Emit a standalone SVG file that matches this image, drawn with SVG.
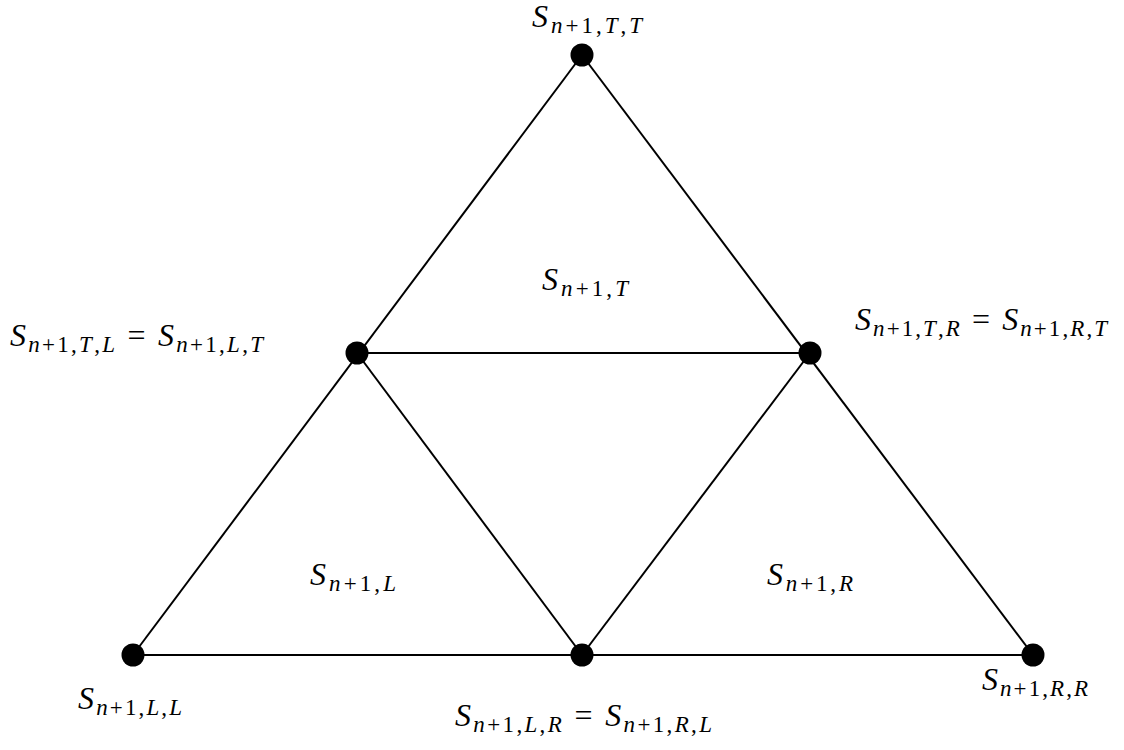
<svg xmlns="http://www.w3.org/2000/svg" width="1124" height="750" viewBox="0 0 1124 750">
<style>
.e{stroke:#000;stroke-width:2;fill:none}
.n{fill:#000}
text{font-family:"Liberation Serif","DejaVu Serif",serif;font-size:32px;fill:#000}
.i{font-style:italic}
.s{font-size:23px}
</style>
<rect width="1124" height="750" fill="#fff"/>
<g id="connectors">
<line class="e" x1="582" y1="55" x2="133" y2="655"/>
<line class="e" x1="582" y1="55" x2="1033" y2="655"/>
<line class="e" x1="133" y1="655" x2="1033" y2="655"/>
<line class="e" x1="357" y1="353" x2="810" y2="353"/>
<line class="e" x1="357" y1="353" x2="582" y2="655"/>
<line class="e" x1="810" y1="353" x2="582" y2="655"/>
</g>
<g id="node-TT"><circle class="n" cx="582" cy="55" r="11.5"/>
<text x="532" y="27" textLength="110" lengthAdjust="spacing"><tspan class="i">S</tspan><tspan class="s" dy="6"><tspan class="i">n</tspan>+1,<tspan class="i">T</tspan>,<tspan class="i">T</tspan></tspan></text></g>
<g id="node-TL"><circle class="n" cx="357" cy="353" r="11.5"/>
<text x="10" y="346" textLength="253" lengthAdjust="spacing"><tspan class="i">S</tspan><tspan class="s" dy="6"><tspan class="i">n</tspan>+1,<tspan class="i">T</tspan>,<tspan class="i">L</tspan></tspan><tspan dy="-6"> = </tspan><tspan class="i">S</tspan><tspan class="s" dy="6"><tspan class="i">n</tspan>+1,<tspan class="i">L</tspan>,<tspan class="i">T</tspan></tspan></text></g>
<g id="node-TR"><circle class="n" cx="810" cy="353" r="11.5"/>
<text x="855" y="330" textLength="252" lengthAdjust="spacing"><tspan class="i">S</tspan><tspan class="s" dy="6"><tspan class="i">n</tspan>+1,<tspan class="i">T</tspan>,<tspan class="i">R</tspan></tspan><tspan dy="-6"> = </tspan><tspan class="i">S</tspan><tspan class="s" dy="6"><tspan class="i">n</tspan>+1,<tspan class="i">R</tspan>,<tspan class="i">T</tspan></tspan></text></g>
<g id="node-LL"><circle class="n" cx="133" cy="655" r="11.5"/>
<text x="78" y="709" textLength="104" lengthAdjust="spacing"><tspan class="i">S</tspan><tspan class="s" dy="6"><tspan class="i">n</tspan>+1,<tspan class="i">L</tspan>,<tspan class="i">L</tspan></tspan></text></g>
<g id="node-LR"><circle class="n" cx="582" cy="655" r="11.5"/>
<text x="455" y="726" textLength="257" lengthAdjust="spacing"><tspan class="i">S</tspan><tspan class="s" dy="6"><tspan class="i">n</tspan>+1,<tspan class="i">L</tspan>,<tspan class="i">R</tspan></tspan><tspan dy="-6"> = </tspan><tspan class="i">S</tspan><tspan class="s" dy="6"><tspan class="i">n</tspan>+1,<tspan class="i">R</tspan>,<tspan class="i">L</tspan></tspan></text></g>
<g id="node-RR"><circle class="n" cx="1033" cy="655" r="11.5"/>
<text x="982" y="690" textLength="106" lengthAdjust="spacing"><tspan class="i">S</tspan><tspan class="s" dy="6"><tspan class="i">n</tspan>+1,<tspan class="i">R</tspan>,<tspan class="i">R</tspan></tspan></text></g>
<g id="region-T"><text x="542" y="290" textLength="86" lengthAdjust="spacing"><tspan class="i">S</tspan><tspan class="s" dy="6"><tspan class="i">n</tspan>+1,<tspan class="i">T</tspan></tspan></text></g>
<g id="region-L"><text x="310" y="585" textLength="86" lengthAdjust="spacing"><tspan class="i">S</tspan><tspan class="s" dy="6"><tspan class="i">n</tspan>+1,<tspan class="i">L</tspan></tspan></text></g>
<g id="region-R"><text x="767" y="585" textLength="86" lengthAdjust="spacing"><tspan class="i">S</tspan><tspan class="s" dy="6"><tspan class="i">n</tspan>+1,<tspan class="i">R</tspan></tspan></text></g>
</svg>
